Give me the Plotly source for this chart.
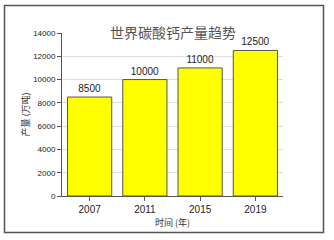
import plotly.graph_objects as go

years = ["2007", "2011", "2015", "2019"]
output = [8500, 10000, 11000, 12500]
y_ticks = [0, 2000, 4000, 6000, 8000, 10000, 12000, 14000]

L, R, T, B = 62, 51, 33, 44
W, H = 334, 240
pw, ph = W - L - R, H - T - B

def px(x):
    return (x - L) / pw

def py(y):
    return (H - B - y) / ph

fig = go.Figure(go.Bar(
    x=years, y=output,
    marker=dict(color="#FFFF00", line=dict(color="#555555", width=1)),
    text=[str(v) for v in output], textposition="outside",
    textfont=dict(size=10, color="#222222", family="Liberation Sans, Arial"),
    cliponaxis=False,
))

fig.update_layout(
    width=W, height=H,
    margin=dict(l=L, r=R, t=T, b=B),
    paper_bgcolor="white", plot_bgcolor="white",
    bargap=0.2, showlegend=False,
    font=dict(family="Liberation Sans, Noto Sans CJK SC", color="#222222"),
    annotations=[
        dict(text="世界碳酸钙产量趋势", x=px(173), y=py(32), xref="paper", yref="paper",
             xanchor="center", yanchor="middle",
             showarrow=False, font=dict(size=14, color="#555555", family="Noto Sans CJK SC")),
    ],
    shapes=[
        dict(type="rect", xref="paper", yref="paper",
             x0=px(4.5), x1=px(323.5), y0=py(232.5), y1=py(5.5),
             line=dict(color="#555555", width=1.5), fillcolor="rgba(0,0,0,0)"),
    ],
)

fig.update_xaxes(
    showline=True, linecolor="#555555", linewidth=1, ticks="outside", ticklen=4,
    tickcolor="#555555", tickfont=dict(size=10, color="#222222"),
    title=dict(text="时间 (年)", font=dict(size=9, color="#333333", family="Noto Sans CJK SC"), standoff=5),
)
fig.update_yaxes(
    range=[0, 14000], tickvals=y_ticks, tickformat="d", showline=True, linecolor="#555555", linewidth=1,
    ticks="outside", ticklen=4, tickcolor="#555555", tickfont=dict(size=8, color="#222222"),
    showgrid=True, gridcolor="#DDDDDD", gridwidth=1, zeroline=False,
    title=dict(text="产量 (万吨)", font=dict(size=9, color="#333333", family="Noto Sans CJK SC"), standoff=2),
)

fig.write_html("out.html", post_script="document.body.style.margin='0';",
               config={"displayModeBar": False})
